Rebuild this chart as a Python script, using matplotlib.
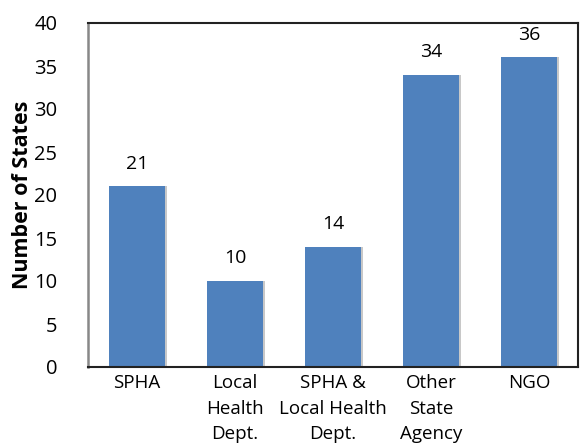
import matplotlib.pyplot as plt
import numpy as np

# Datos
categorias = ['SPHA', 'Local\nHealth\nDept.', 'SPHA &\nLocal Health\nDept.', 'Other\nState\nAgency', 'NGO']
valores = [21, 10, 14, 34, 36]

plt.rcParams['font.family'] = ['Open Sans', 'DejaVu Sans']

fig = plt.figure(figsize=(5.8, 4.47), dpi=100)
ax = fig.add_axes([88 / 580, 80 / 447, 490 / 580, 344 / 447])

x = np.arange(len(categorias))
ancho = 0.57
# sombra ligera a la derecha de cada barra
ax.bar(x + 0.025, valores, width=ancho, color='#c8c8c8', zorder=1)
ax.bar(x, valores, width=ancho, color='#4F81BD', zorder=2)

for xi, v in zip(x, valores):
    ax.annotate(str(v), (xi, v), xytext=(0, 10), textcoords='offset points',
                ha='center', va='bottom', fontsize=14, clip_on=False)

ax.set_xlim(-0.5, len(categorias) - 0.5)
ax.set_ylim(0, 40)
ax.set_yticks(range(0, 41, 5))
ax.set_xticks(x)
ax.set_xticklabels(categorias, fontsize=13.5, linespacing=1.55, va='top')
ax.tick_params(axis='y', length=0, pad=22, labelsize=14.5)
ax.tick_params(axis='x', length=0, pad=5)
ax.set_ylabel('Number of States', fontsize=15.5, fontweight='bold')
ax.yaxis.set_label_coords(-0.113, 0.5)

for lado in ['top', 'bottom', 'right']:
    ax.spines[lado].set_color('#222222')
    ax.spines[lado].set_linewidth(1.5)
ax.spines['left'].set_color('#888888')
ax.spines['left'].set_linewidth(1.8)

fig.savefig('out.png', dpi=100)
